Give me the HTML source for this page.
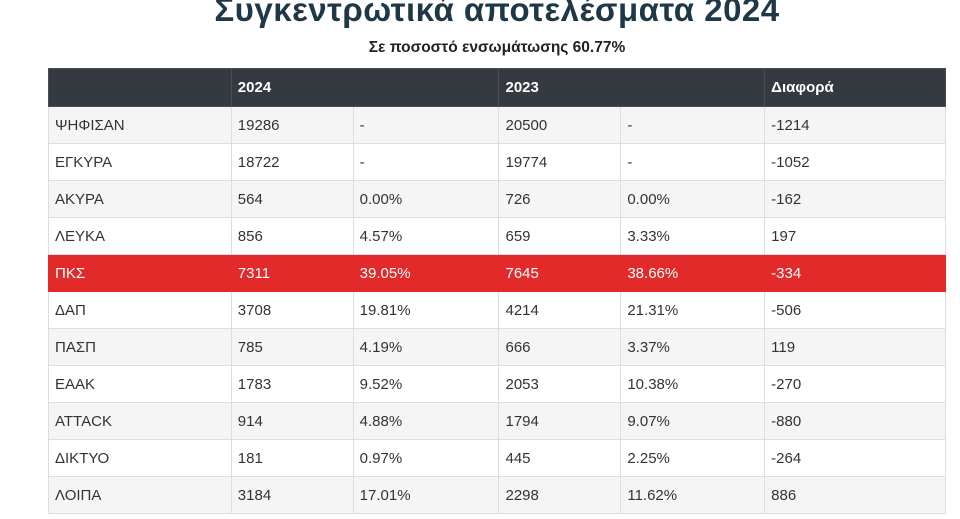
<!DOCTYPE html>
<html><head><meta charset="utf-8"><style>
body{margin:0;width:960px;height:519px;background:#fff;overflow:hidden;font-family:"Liberation Sans","DejaVu Sans",sans-serif;position:relative}
h1{position:absolute;top:-9px;left:0;width:994px;text-align:center;margin:0;font-size:33px;font-weight:bold;color:#1f3847;letter-spacing:0.5px}
.sub{position:absolute;top:39px;left:0;width:994px;text-align:center;font-size:15.5px;font-weight:bold;color:#222}
table{position:absolute;left:48px;top:68px;width:898px;border-collapse:collapse;font-size:15px;color:#333}
td,th{border:1px solid #ddd;padding:0 6px;height:36px;text-align:left}
th{background:#343a40;color:#fff;font-weight:bold;height:37px;border-color:#454d55}
tr:nth-child(even) td{background:#f5f5f5}
tr.r td{background:#e32a2a;color:#fff;border-color:#e32a2a}
</style></head><body>
<h1>Συγκεντρωτικά αποτελέσματα 2024</h1>
<div class="sub">Σε ποσοστό ενσωμάτωσης 60.77%</div>
<table>
<colgroup><col style="width:183px"><col style="width:122px"><col style="width:146px"><col style="width:122px"><col style="width:144px"><col style="width:181px"></colgroup>
<tr><th></th><th colspan="2">2024</th><th colspan="2">2023</th><th>Διαφορά</th></tr>
<tr><td>ΨΗΦΙΣΑΝ</td><td>19286</td><td>-</td><td>20500</td><td>-</td><td>-1214</td></tr>
<tr><td>ΕΓΚΥΡΑ</td><td>18722</td><td>-</td><td>19774</td><td>-</td><td>-1052</td></tr>
<tr><td>ΑΚΥΡΑ</td><td>564</td><td>0.00%</td><td>726</td><td>0.00%</td><td>-162</td></tr>
<tr><td>ΛΕΥΚΑ</td><td>856</td><td>4.57%</td><td>659</td><td>3.33%</td><td>197</td></tr>
<tr class="r"><td>ΠΚΣ</td><td>7311</td><td>39.05%</td><td>7645</td><td>38.66%</td><td>-334</td></tr>
<tr><td>ΔΑΠ</td><td>3708</td><td>19.81%</td><td>4214</td><td>21.31%</td><td>-506</td></tr>
<tr><td>ΠΑΣΠ</td><td>785</td><td>4.19%</td><td>666</td><td>3.37%</td><td>119</td></tr>
<tr><td>ΕΑΑΚ</td><td>1783</td><td>9.52%</td><td>2053</td><td>10.38%</td><td>-270</td></tr>
<tr><td>ATTACK</td><td>914</td><td>4.88%</td><td>1794</td><td>9.07%</td><td>-880</td></tr>
<tr><td>ΔΙΚΤΥΟ</td><td>181</td><td>0.97%</td><td>445</td><td>2.25%</td><td>-264</td></tr>
<tr><td>ΛΟΙΠΑ</td><td>3184</td><td>17.01%</td><td>2298</td><td>11.62%</td><td>886</td></tr>
</table>
</body></html>
